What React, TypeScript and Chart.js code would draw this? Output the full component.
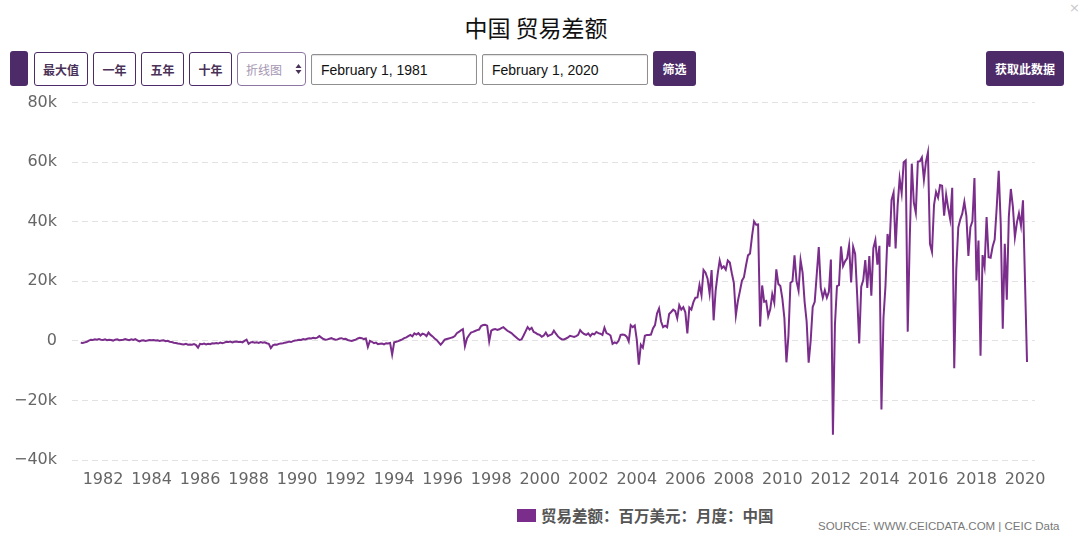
import React, { useEffect, useRef } from "react";
import { Chart, registerables } from "chart.js";

Chart.register(...registerables);

// 贸易差额：百万美元：月度：中国 — first value is February 1981
const startYear = 1981;
const startMonth = 2;

const balance1980s = [
  /* 1981 Feb-Dec */ -600, -700, -500, -300, 100, 400, 300, 500, 400, 600, 400,
  /* 1982 */ 300, 500, 200, 400, 300, 100, 400, 500, 200, 300, 400, 600,
  /* 1983 */ 400, 200, 500, 300, 600, 200, -200, 100, 200, 0, 100, 300,
  /* 1984 */ 200, 300, 100, 200, 0, 100, 200, -100, 0, -300, -400, -600,
  /* 1985 */ -700, -900, -1000, -1100, -1200, -1000, -1300, -1200, -1300, -1100, -1400, -2300,
  /* 1986 */ -1000, -1100, -900, -1200, -1000, -1100, -800, -900, -700, -900, -600, -800,
  /* 1987 */ -600, -300, -400, -200, -500, -300, -200, -400, -300, -500, 0, 400,
  /* 1988 */ -1000, -500, -400, -600, -500, -700, -400, -600, -500, -800, -1000, -2400,
  /* 1989 */ -1500, -1200, -1300, -1000, -900, -800, -600, -500, -200, -400, -100, 100,
];

const balance1990s = [
  /* 1990 */ 200, 400, 300, 600, 500, 700, 900, 800, 1000, 900, 1100, 1600,
  /* 1991 */ 1100, 600, 400, 500, 700, 900, 600, 400, 500, 800, 900, 600,
  /* 1992 */ 700, 300, 100, 0, 200, 400, 800, 1000, 900, 600, 800, -2000,
  /* 1993 */ 0, -300, -800, -600, -1100, -1000, -900, -1200, -800, -900, -700, -4600,
  /* 1994 */ -500, -300, -100, 200, 500, 900, 1200, 1600, 2000, 1500, 2500, 2100,
  /* 1995 */ 2600, 1800, 2400, 2200, 1600, 2800, 2000, 1500, 800, 300, -500, -1300,
  /* 1996 */ -500, 400, 600, 800, 1000, 1200, 1600, 2600, 3000, 3500, 3900, -1800,
  /* 1997 */ 800, 1900, 2800, 3000, 3300, 3600, 3800, 5000, 5300, 5400, 5100, -200,
  /* 1998 */ 3400, 3800, 4000, 3700, 3900, 4300, 4600, 4000, 3400, 3000, 2600, 2000,
  /* 1999 */ 1400, 800, 300, 500, 1800, 3200, 4600, 3800, 4400, 3000, 2700, 2200,
];

const balance2000s = [
  /* 2000 */ 2000, 1400, 1800, 2800, 1600, 1900, 2200, 3400, 2400, 1500, 900, 500,
  /* 2001 */ 500, 800, 1200, 1700, 1500, 1300, 1600, 2000, 3600, 2800, 2300, 2000,
  /* 2002 */ 2500, 1600, 2400, 2200, 3000, 2600, 2400, 2000, 4400, 2600, 2300, 1800,
  /* 2003 */ -1000, -500, -800, 0, 2000, 2100, 2000, 1400, -200, 5300, 4600, 5200,
  /* 2004 */ 300, -8000, -1300, -2300, 1700, 2000, 2000, 2100, 4200, 5300, 9200, 10900,
  /* 2005 */ 6500, 4600, 5100, 4600, 9000, 9700, 10500, 10000, 7600, 12000, 10500, 11300,
  /* 2006 */ 9600, 2500, 11200, 10500, 13000, 14500, 14600, 18800, 15300, 23800, 22900, 20900,
  /* 2007 */ 15900, 23800, 6900, 16900, 22500, 27000, 24400, 25000, 23900, 27000, 26300, 22700,
  /* 2008 */ 19500, 8600, 13400, 16700, 20200, 21400, 25300, 28700, 29300, 35200, 40100, 39000,
  /* 2009 */ 39100, 4800, 18600, 13100, 13400, 8300, 10600, 15700, 12900, 24000, 19100, 18400,
];

const balance2010s = [
  /* 2010 */ 14200, 7600, -7200, 1700, 19500, 20000, 28700, 20000, 16900, 27100, 22900, 13100,
  /* 2011 */ 6500, -7300, 100, 11400, 13100, 22300, 31500, 17800, 14500, 17000, 14500, 16500,
  /* 2012 */ 27300, -31500, 5400, 18400, 18700, 31700, 25100, 26700, 27700, 32000, 19600, 31600,
  /* 2013 */ 29200, 15300, -900, 18200, 20400, 27100, 17800, 28500, 15200, 31100, 33800, 25600,
  /* 2014 */ 31900, -23000, 7700, 18500, 35900, 31600, 47300, 49800, 31000, 45400, 54500, 49600,
  /* 2015 */ 60000, 60600, 3100, 34100, 59500, 46500, 43000, 60200, 60300, 61600, 54100, 60100,
  /* 2016 */ 63300, 32600, 29900, 45600, 50000, 48100, 52300, 52100, 42000, 49100, 44600, 40800,
  /* 2017 */ 51400, -9200, 23900, 38100, 40800, 42800, 46700, 42000, 28500, 38200, 40200, 54700,
  /* 2018 */ 20300, 33700, -5000, 28800, 24900, 41600, 28100, 27900, 31700, 34000, 44700, 57100,
  /* 2019 */ 39200, 4100, 32600, 13800, 41700, 51000, 45100, 34800, 39700, 42800, 38700, 47200,
  /* 2020 Jan-Feb */ null, -7100,
];

const yearTicks = [
  1982, 1984, 1986, 1988, 1990, 1992, 1994, 1996, 1998, 2000,
  2002, 2004, 2006, 2008, 2010, 2012, 2014, 2016, 2018, 2020,
];
const yMin = -40000;
const yMax = 80000;
const yStep = 20000;

const seriesLabel = "贸易差额：百万美元：月度：中国";
const lineColor = "#7b2d8b";
const darkPurple = "#4d2a68";

const monthlyBalance: (number | null)[] = [
  ...balance1980s,
  ...balance1990s,
  ...balance2000s,
  ...balance2010s,
];

function TradeChart() {
  const ref = useRef<HTMLCanvasElement | null>(null);
  useEffect(() => {
    if (!ref.current) return;
    const points = monthlyBalance.map((v, i) => ({
      x: startYear + (startMonth - 1 + i) / 12,
      y: v,
    }));
    const chart = new Chart(ref.current, {
      type: "line",
      data: {
        datasets: [
          {
            label: seriesLabel,
            data: points as any,
            borderColor: lineColor,
            backgroundColor: lineColor,
            borderWidth: 2,
            pointRadius: 0,
            tension: 0,
            spanGaps: true,
          },
        ],
      },
      options: {
        animation: false,
        responsive: false,
        maintainAspectRatio: false,
        devicePixelRatio: 1,
        layout: { padding: { top: 0, right: 45, left: 0, bottom: 0 } },
        plugins: { legend: { display: false }, tooltip: { enabled: false } },
        scales: {
          x: {
            type: "linear",
            min: 1980.722,
            max: 2020.412,
            grid: { display: false, drawTicks: false },
            border: { display: false },
            afterBuildTicks: (scale: any) => {
              scale.ticks = yearTicks.map((v) => ({ value: v }));
            },
            afterFit: (scale: any) => {
              scale.height = 30;
            },
            ticks: {
              autoSkip: false,
              maxRotation: 0,
              minRotation: 0,
              padding: 10,
              color: "#666",
              font: { family: "DejaVu Sans", size: 16 },
              callback: (v: any) => String(v),
            },
          },
          y: {
            min: yMin,
            max: yMax,
            grid: { color: "#e2e2e2", drawTicks: false, lineWidth: 1 },
            border: { display: false, dash: [6, 4] },
            afterFit: (scale: any) => {
              scale.width = 72;
            },
            ticks: {
              stepSize: yStep,
              padding: 15,
              color: "#666",
              font: { family: "DejaVu Sans", size: 16 },
              callback: (v: any) => {
                const n = Number(v);
                if (n === 0) return "0";
                return (n < 0 ? "−" : "") + Math.abs(n / 1000) + "k";
              },
            },
          },
        },
      },
    });
    return () => chart.destroy();
  }, []);
  return (
    <canvas
      ref={ref}
      width={1080}
      height={412}
      style={{ position: "absolute", left: 0, top: 78, width: 1080, height: 412 }}
    />
  );
}

const cjk = '"Noto Sans CJK SC", "Noto Sans", sans-serif';

function OutlineButton(props: { left: number; width: number; text: string }) {
  return (
    <div
      style={{
        position: "absolute",
        left: props.left,
        top: 52,
        width: props.width,
        height: 34,
        boxSizing: "border-box",
        border: `1px solid ${darkPurple}`,
        borderRadius: 3,
        background: "#fff",
        color: "#4a3158",
        fontFamily: cjk,
        fontWeight: 700,
        fontSize: 12,
        display: "flex",
        alignItems: "center",
        justifyContent: "center",
      }}
    >
      {props.text}
    </div>
  );
}

function FilledButton(props: { left: number; width: number; text: string }) {
  return (
    <div
      style={{
        position: "absolute",
        left: props.left,
        top: 51,
        width: props.width,
        height: 35,
        borderRadius: 3,
        background: darkPurple,
        color: "#fff",
        fontFamily: cjk,
        fontWeight: 700,
        fontSize: 12,
        display: "flex",
        alignItems: "center",
        justifyContent: "center",
      }}
    >
      {props.text}
    </div>
  );
}

function DateBox(props: { left: number; text: string }) {
  return (
    <div
      style={{
        position: "absolute",
        left: props.left,
        top: 54,
        width: 166,
        height: 31,
        boxSizing: "border-box",
        border: "1px solid #8f8f8f",
        borderRadius: 2,
        background: "#fff",
        color: "#111",
        fontFamily: '"Liberation Sans", Arial, sans-serif',
        fontSize: 14,
        paddingLeft: 9,
        display: "flex",
        alignItems: "center",
        boxShadow: "inset 0 1px 1px rgba(0,0,0,0.12)",
      }}
    >
      {props.text}
    </div>
  );
}

export default function App() {
  return (
    <div
      style={{
        position: "fixed",
        left: 0,
        top: 0,
        width: 1080,
        height: 552,
        background: "#fff",
        overflow: "hidden",
      }}
    >
      <div
        style={{
          position: "absolute",
          left: 0,
          top: 10,
          width: 1072,
          textAlign: "center",
          fontFamily: cjk,
          fontSize: 23,
          fontWeight: 400,
          color: "#111",
          lineHeight: "34px",
        }}
      >
        中国 贸易差额
      </div>
      <div
        style={{
          position: "absolute",
          left: 1069,
          top: 0,
          fontFamily: '"DejaVu Sans", sans-serif',
          fontSize: 13,
          color: "#c8c8c8",
        }}
      >
        ×
      </div>

      <div
        style={{
          position: "absolute",
          left: 10,
          top: 51,
          width: 18,
          height: 35,
          borderRadius: 3,
          background: darkPurple,
        }}
      />
      <OutlineButton left={34} width={54} text="最大值" />
      <OutlineButton left={93} width={43} text="一年" />
      <OutlineButton left={141} width={43} text="五年" />
      <OutlineButton left={189} width={43} text="十年" />
      <div
        style={{
          position: "absolute",
          left: 237,
          top: 52,
          width: 69,
          height: 34,
          boxSizing: "border-box",
          border: "1px solid #8e76a3",
          borderRadius: 4,
          background: "#fff",
          color: "#a596b2",
          fontFamily: cjk,
          fontSize: 12,
          display: "flex",
          alignItems: "center",
          paddingLeft: 8,
        }}
      >
        折线图
        <svg
          width="7"
          height="12"
          style={{ position: "absolute", left: 57, top: 10 }}
          viewBox="0 0 7 12"
        >
          <path d="M0.5 5 L3.5 1 L6.5 5 Z" fill="#4a3158" />
          <path d="M0.5 7 L3.5 11 L6.5 7 Z" fill="#4a3158" />
        </svg>
      </div>
      <DateBox left={311} text="February 1, 1981" />
      <DateBox left={482} text="February 1, 2020" />
      <FilledButton left={653} width={43} text="筛选" />
      <FilledButton left={986} width={78} text="获取此数据" />

      <TradeChart />

      <div
        style={{
          position: "absolute",
          left: 517,
          top: 509,
          width: 19,
          height: 13,
          background: lineColor,
        }}
      />
      <div
        style={{
          position: "absolute",
          left: 541,
          top: 504,
          fontFamily: cjk,
          fontWeight: 700,
          fontSize: 15.5,
          color: "#555",
          lineHeight: "22px",
          whiteSpace: "nowrap",
        }}
      >
        {seriesLabel}
      </div>
      <div
        style={{
          position: "absolute",
          left: 818,
          top: 519,
          fontFamily: '"Liberation Sans Narrow", "Liberation Sans", Arial, sans-serif',
          fontSize: 11.5,
          color: "#777",
          lineHeight: "14px",
          whiteSpace: "nowrap",
        }}
      >
        SOURCE: WWW.CEICDATA.COM | CEIC Data
      </div>
    </div>
  );
}
